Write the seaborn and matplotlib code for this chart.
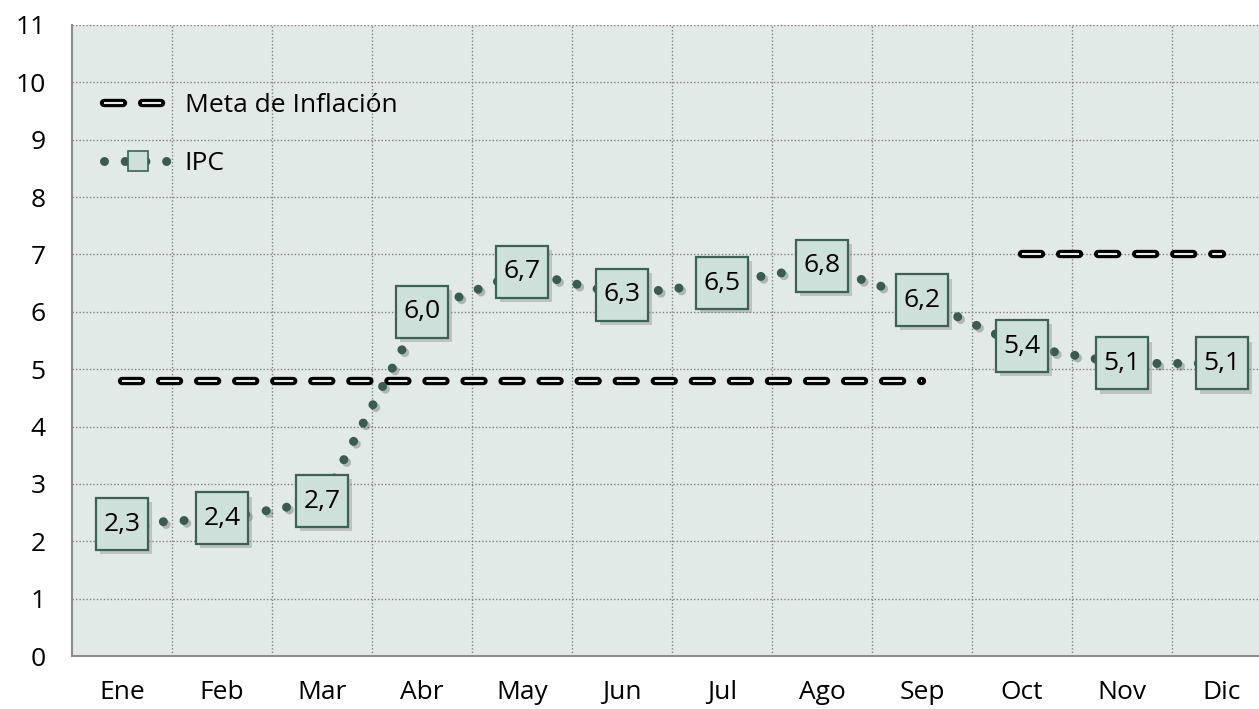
import matplotlib
matplotlib.use('Agg')
import matplotlib.pyplot as plt
import matplotlib.patheffects as pe
from matplotlib.lines import Line2D
from matplotlib.legend_handler import HandlerTuple
from matplotlib.ticker import FixedLocator
import seaborn as sns
import pandas as pd

# datos
meses = ['Ene', 'Feb', 'Mar', 'Abr', 'May', 'Jun', 'Jul', 'Ago', 'Sep', 'Oct', 'Nov', 'Dic']
ipc = [2.3, 2.4, 2.7, 6.0, 6.7, 6.3, 6.5, 6.8, 6.2, 5.4, 5.1, 5.1]
meta_meses_1 = ['Ene', 'Feb', 'Mar', 'Abr', 'May', 'Jun', 'Jul', 'Ago', 'Sep']
meta_valores_1 = [4.8, 4.8, 4.8, 4.8, 4.8, 4.8, 4.8, 4.8, 4.8]
meta_meses_2 = ['Oct', 'Nov', 'Dic']
meta_valores_2 = [7.0, 7.0, 7.0]
etiquetas_y = list(range(0, 12))

sns.set_theme(style='white')
plt.rcParams['font.family'] = ['Open Sans', 'DejaVu Sans']
plt.rcParams['lines.scale_dashes'] = False

fondo = '#e2eae7'
verde = '#3b5b4f'
relleno = '#cde0d9'
borde = '#3e6153'
gris = '#7f7f7f'
interior = '#e6ecea'
fs = 19

pos = {m: i for i, m in enumerate(meses)}
df = pd.DataFrame({'pos': range(len(meses)), 'ipc': ipc})
df_meta1 = pd.DataFrame({'pos': [pos[m] for m in meta_meses_1], 'meta': meta_valores_1})
df_meta2 = pd.DataFrame({'pos': [pos[m] for m in meta_meses_2], 'meta': meta_valores_2})

fig = plt.figure(figsize=(12.59, 7.09), dpi=100)
ax = fig.add_axes([72 / 1259, 53 / 709, 1187 / 1259, 631 / 709])
ax.set_facecolor(fondo)

patron = (0, (13.7, 13.7))
for d in (df_meta1, df_meta2):
    sns.lineplot(data=d, x='pos', y='meta', ax=ax, color='black', lw=6.0,
                 linestyle=patron, dash_capstyle='round', zorder=2)
    sns.lineplot(data=d, x='pos', y='meta', ax=ax, color=interior, lw=1.5,
                 linestyle=patron, dash_capstyle='butt', zorder=2.1)

puntos = (0, (0.01, 14.9))
sns.lineplot(data=df, x='pos', y='ipc', ax=ax, color=verde, lw=6.5,
             linestyle=puntos, dash_capstyle='round', zorder=3,
             path_effects=[pe.SimpleLineShadow(offset=(2, -2), alpha=0.25), pe.Normal()])

ax.plot(df['pos'], df['ipc'], linestyle='none', marker='s', ms=37.4,
        mfc=relleno, mec=borde, mew=1.6, zorder=4,
        path_effects=[pe.SimplePatchShadow(offset=(3, -3), shadow_rgbFace='#888888', alpha=0.4),
                      pe.Normal()])

for x, v in zip(df['pos'], df['ipc']):
    ax.text(x, v, f'{v:.1f}'.replace('.', ','), ha='center', va='center',
            fontsize=fs, color='black', zorder=5)

ax.set_xlim(-0.5, 11.37)
ax.set_ylim(0, 11)
ax.set_xticks(range(len(meses)), meses)
ax.set_yticks(etiquetas_y)
ax.xaxis.set_minor_locator(FixedLocator([i + 0.5 for i in range(11)]))
ax.tick_params(which='both', length=0)
ax.tick_params(axis='y', pad=19, labelsize=fs, labelcolor='black')
ax.tick_params(axis='x', pad=17, labelsize=fs, labelcolor='black')
ax.set_xlabel('')
ax.set_ylabel('')

ax.grid(False)
ax.grid(which='minor', axis='x', linestyle=(0, (1, 1.5)), color=gris, lw=1)
ax.grid(which='major', axis='y', linestyle=(0, (1, 1.5)), color=gris, lw=1)
ax.set_axisbelow(True)
for s in ['top', 'right']:
    ax.spines[s].set_visible(False)
for s in ['left', 'bottom']:
    ax.spines[s].set_color('#8c8c8c')
    ax.spines[s].set_linewidth(1.5)

h_meta = (Line2D([], [], color='black', lw=6.0, linestyle=patron, dash_capstyle='round'),
          Line2D([], [], color=interior, lw=1.5, linestyle=patron, dash_capstyle='butt'))
h_ipc = Line2D([], [], color=verde, lw=6.5, linestyle=puntos, dash_capstyle='round',
               marker='s', ms=14, mfc=relleno, mec=borde, mew=1.2)
leg = ax.legend([h_meta, h_ipc], ['Meta de Inflación', 'IPC'],
                handler_map={tuple: HandlerTuple(ndivide=1)},
                loc='upper left', bbox_to_anchor=(0.027, 0.892), borderpad=0,
                borderaxespad=0, frameon=False, fontsize=fs, handlelength=2.55,
                handletextpad=0.5, labelspacing=1.25, numpoints=1)
for t in leg.get_texts():
    t.set_color('black')

fig.savefig('out.png', dpi=100)
